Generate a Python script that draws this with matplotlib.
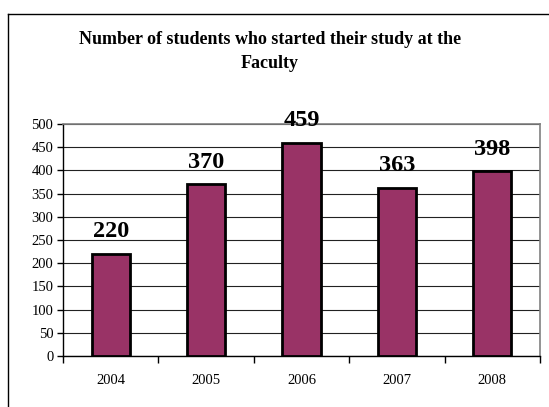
import matplotlib
matplotlib.use("Agg")
import matplotlib.pyplot as plt
from matplotlib.lines import Line2D

years = ["2004", "2005", "2006", "2007", "2008"]
students = [220, 370, 459, 363, 398]
yticks = list(range(0, 501, 50))

plt.rcParams['font.family'] = ['Liberation Serif', 'DejaVu Serif']

W, H = 549, 407
fig = plt.figure(figsize=(W / 100, H / 100), dpi=100)

# outer chart frame (only left and top edges fall inside the picture)
fig.lines.append(Line2D([7.5 / W, 7.5 / W], [0, 1 - 14 / H], transform=fig.transFigure,
                        color="black", linewidth=1.0))
fig.lines.append(Line2D([7.5 / W, 1], [1 - 14 / H, 1 - 14 / H], transform=fig.transFigure,
                        color="black", linewidth=1.0))

ax = fig.add_axes([63 / W, 1 - 356 / H, (540 - 63) / W, (356 - 124) / H])

x = list(range(len(years)))
ax.bar(x, students, width=0.4, color="#993366", edgecolor="black",
       linewidth=2, zorder=3)

for xi, v in zip(x, students):
    ax.annotate(str(v), (xi, v), xytext=(0, 12), textcoords="offset points",
                ha="center", va="baseline", fontsize=17.5,
                fontweight="bold", annotation_clip=False, zorder=4)

ax.set_xlim(-0.5, len(years) - 0.5)
ax.set_ylim(0, 500)
ax.set_yticks(yticks)
ax.yaxis.grid(True, color="#222222", linewidth=0.8, zorder=0)
ax.set_axisbelow(True)

# ticks between categories, labels in the middle
ax.set_xticks([i - 0.5 for i in range(len(years) + 1)])
ax.set_xticklabels([])
ax.set_xticks(x, minor=True)
ax.set_xticklabels(years, minor=True)
ax.tick_params(axis="x", which="minor", length=0, pad=13, labelsize=10.5)
ax.tick_params(axis="x", which="major", length=5, direction="out", width=1)
ax.tick_params(axis="y", length=4, direction="out", width=1, labelsize=10.5, pad=3)

for s in ["top", "right"]:
    ax.spines[s].set_color("#808080")
    ax.spines[s].set_linewidth(1.2)
for s in ["left", "bottom"]:
    ax.spines[s].set_color("black")
    ax.spines[s].set_linewidth(1.0)

fig.text(270 / W, 1 - 40 / H, "Number of students who started their study at the",
         ha="center", va="center", fontsize=13, fontweight="bold")
fig.text(270 / W, 1 - 63 / H, "Faculty",
         ha="center", va="center", fontsize=13, fontweight="bold")

fig.savefig("out.png", dpi=100)
